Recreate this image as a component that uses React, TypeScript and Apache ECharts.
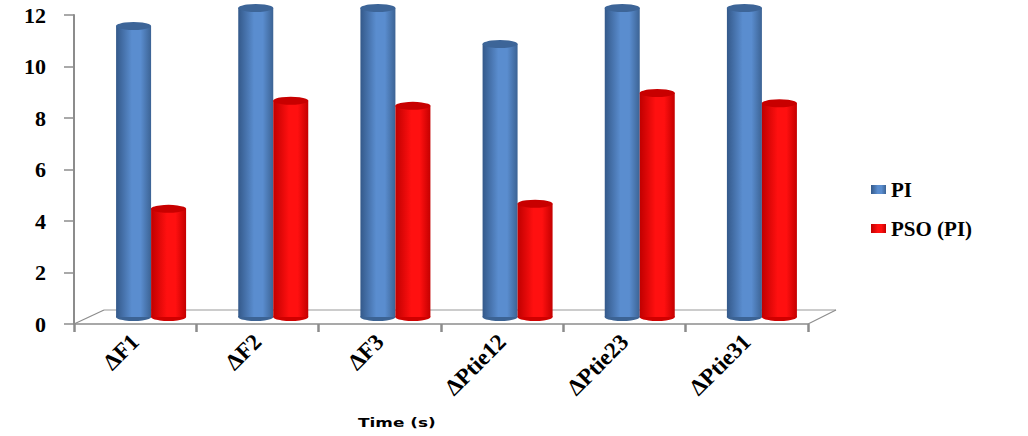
import React, { useEffect, useRef } from "react";
import * as echarts from "echarts";

const categories = ["ΔF1", "ΔF2", "ΔF3", "ΔPtie12", "ΔPtie23", "ΔPtie31"];
const piValues = [11.3, 12.0, 12.0, 10.6, 12.0, 12.0];
const psoValues = [4.2, 8.4, 8.2, 4.4, 8.7, 8.3];
const yTicks = { min: 0, max: 12, interval: 2 };

const W = 1028;
const H = 436;
const G0 = { left: 74, right: 220, top: 15, bottom: 112 };
const G1 = { left: 90, right: 205, top: 8, bottom: 119 };
const BAR_W = 35;

const serif = "Liberation Serif";

function cyl(dark: string, mid: string, dark2: string) {
  return new echarts.graphic.LinearGradient(0, 0, 1, 0, [
    { offset: 0, color: dark },
    { offset: 0.45, color: mid },
    { offset: 0.7, color: mid },
    { offset: 1, color: dark2 },
  ]);
}

export default function App() {
  const ref = useRef<HTMLDivElement>(null);
  useEffect(() => {
    if (!ref.current) return;
    const chart = echarts.init(ref.current, null, { renderer: "svg" });
    const blue = cyl("#34598a", "#5a8dcf", "#3c6394");
    const red = cyl("#c00000", "#ff1010", "#c40000");
    const frontY = H - G0.bottom;
    const backY = frontY - 14;
    const x0 = G0.left;
    const x1 = W - G0.right;
    const hiddenCat = () => ({
      type: "category",
      gridIndex: 1,
      data: categories,
      show: false,
    });
    const option: any = {
      animation: false,
      backgroundColor: "#ffffff",
      grid: [
        { left: G0.left, right: G0.right, top: G0.top, bottom: G0.bottom },
        { left: G1.left, right: G1.right, top: G1.top, bottom: G1.bottom },
      ],
      legend: {
        data: ["PI", "PSO (PI)"],
        orient: "vertical",
        left: 866,
        top: 174,
        itemGap: 18,
        itemWidth: 15,
        itemHeight: 9,
        icon: "rect",
        textStyle: { fontFamily: serif, fontWeight: "bold", fontSize: 21, color: "#000" },
      },
      xAxis: [
        {
          type: "category",
          gridIndex: 0,
          data: categories,
          axisLine: { lineStyle: { color: "#8c8c8c", width: 1.5 } },
          axisTick: { show: true, length: 8, lineStyle: { color: "#8c8c8c", width: 2.5 } },
          axisLabel: {
            rotate: 45,
            margin: 14,
            fontFamily: serif,
            fontWeight: "bold",
            fontSize: 23,
            color: "#000",
          },
        },
        hiddenCat(),
        hiddenCat(),
        hiddenCat(),
      ],
      yAxis: [
        {
          type: "value",
          gridIndex: 0,
          min: yTicks.min,
          max: yTicks.max,
          interval: yTicks.interval,
          axisLine: { show: true, lineStyle: { color: "#8c8c8c", width: 2 } },
          axisTick: { show: true, length: 10, lineStyle: { color: "#8c8c8c", width: 1.5 } },
          splitLine: { show: false },
          axisLabel: {
            margin: 28,
            fontFamily: serif,
            fontWeight: "bold",
            fontSize: 22,
            color: "#000",
          },
        },
        {
          type: "value",
          gridIndex: 1,
          min: yTicks.min,
          max: yTicks.max,
          show: false,
          splitLine: { show: false },
        },
      ],
      graphic: [
        { type: "line", shape: { x1: x0, y1: frontY, x2: x0 + 30, y2: backY }, style: { stroke: "#8c8c8c", lineWidth: 1.2 } },
        { type: "line", shape: { x1: x0 + 30, y1: backY, x2: x1 + 28, y2: backY }, style: { stroke: "#9a9a9a", lineWidth: 1.2 } },
        { type: "line", shape: { x1: x1, y1: frontY, x2: x1 + 28, y2: backY }, style: { stroke: "#8c8c8c", lineWidth: 1.2 } },
        {
          type: "text",
          x: 358,
          y: 416,
          scaleX: 1.3,
          style: { text: "Time (s)", font: "bold 13px DejaVu Sans", fill: "#000" },
        },
      ],
      series: [
        {
          name: "PI-base", type: "pictorialBar", xAxisIndex: 2, yAxisIndex: 1,
          symbol: "circle", symbolSize: [BAR_W, 8], symbolOffset: [0, "50%"],
          barGap: 0, barWidth: BAR_W, z: 1,
          itemStyle: { color: "#3c6394" }, data: piValues,
        },
        {
          name: "PSO-base", type: "pictorialBar", xAxisIndex: 2, yAxisIndex: 1,
          symbol: "circle", symbolSize: [BAR_W, 8], symbolOffset: [0, "50%"],
          barGap: 0, barWidth: BAR_W, z: 1,
          itemStyle: { color: "#d00000" }, data: psoValues,
        },
        {
          name: "PI", type: "bar", xAxisIndex: 1, yAxisIndex: 1,
          barWidth: BAR_W, barGap: 0, z: 2,
          itemStyle: { color: blue }, data: piValues,
        },
        {
          name: "PSO (PI)", type: "bar", xAxisIndex: 1, yAxisIndex: 1,
          barWidth: BAR_W, barGap: 0, z: 2,
          itemStyle: { color: red }, data: psoValues,
        },
        {
          name: "PI-top", type: "pictorialBar", xAxisIndex: 3, yAxisIndex: 1,
          symbol: "circle", symbolSize: [BAR_W, 8], symbolPosition: "end", symbolOffset: [0, "-50%"],
          barGap: 0, barWidth: BAR_W, z: 3,
          itemStyle: { color: "#3d6598" }, data: piValues,
        },
        {
          name: "PSO-top", type: "pictorialBar", xAxisIndex: 3, yAxisIndex: 1,
          symbol: "circle", symbolSize: [BAR_W, 8], symbolPosition: "end", symbolOffset: [0, "-50%"],
          barGap: 0, barWidth: BAR_W, z: 3,
          itemStyle: { color: "#c80000" }, data: psoValues,
        },
      ],
    };
    chart.setOption(option);
    return () => chart.dispose();
  }, []);
  return (
    <div
      ref={ref}
      style={{ position: "fixed", left: 0, top: 0, width: W, height: H, background: "#fff" }}
    />
  );
}
